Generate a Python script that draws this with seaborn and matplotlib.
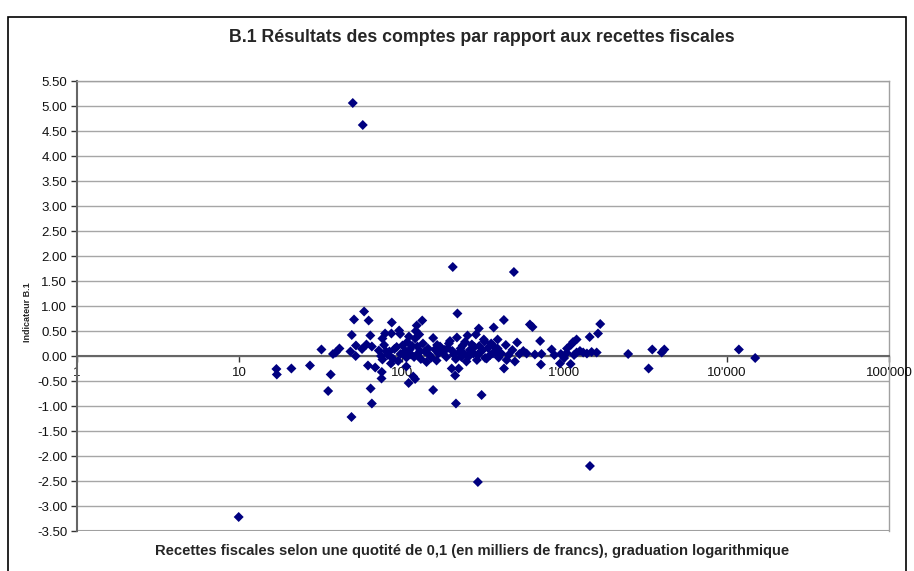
import numpy as np
import pandas as pd
import matplotlib
matplotlib.use("Agg")
import matplotlib.pyplot as plt
from matplotlib.patches import Rectangle
import seaborn as sns

sns.set_theme(style="white")
plt.rcParams['font.family'] = ['Liberation Sans', 'DejaVu Sans']

# Recettes fiscales (milliers de francs) et indicateur B.1
recettes = [
    9.9, 16.9, 17.0, 20.9, 27.2, 32.0, 35.2, 36.5, 37.7, 39.2, 41.3, 48.3, 49.0, 49.2,
    49.9, 50.8, 52.0, 52.2, 56.9, 57.5, 58.6, 60.6, 61.9, 62.5, 64.0, 64.3, 65.4, 65.4,
    68.6, 72.2, 74.5, 75.0, 75.3, 76.0, 76.0, 77.8, 78.9, 80.1, 83.9, 85.7, 86.3, 86.8,
    90.1, 96.3, 97.7, 98.2, 101, 105.5, 106.8, 106.6, 110.2, 110.6, 112, 117.6, 120.8,
    120.8, 122, 123.6, 124.7, 128, 129.7, 133.6, 139, 142, 156, 156, 160, 163.7, 172,
    178, 195, 198, 203, 206, 209, 213, 215, 215.5, 218.5, 220, 224, 226, 237, 250, 254,
    262, 270, 276, 286, 290, 298, 306, 310, 320, 324, 326, 333, 364, 364, 368, 377, 389,
    389, 425, 426, 437, 442, 294, 490, 497, 513, 587, 615, 638, 711, 719, 725, 837, 942,
    954, 1036, 1041, 1096, 1106, 1134, 1192, 1192, 1309, 1435, 1440, 1475, 1585, 1615,
    1667, 2477, 3311, 3486, 3985, 4135, 11900, 15000,
    82, 88, 93, 95, 103, 108, 114, 116, 119, 126, 131, 135, 145, 148, 152, 165, 168, 183,
    188, 192, 205, 230, 233, 240, 245, 258, 266, 280, 295, 300, 315, 340, 350, 355, 395,
    410, 455, 480, 530, 560, 660, 870, 1000, 1150, 1250, 1380,
]
indicateur = [
    -3.22, -0.26, -0.37, -0.25, -0.19, 0.13, -0.70, -0.37, 0.04, 0.07, 0.15, 0.09, -1.22, 0.42,
    5.06, 0.73, 0.00, 0.21, 0.14, 4.62, 0.89, 0.23, -0.19, 0.71, 0.41, -0.65, 0.19, -0.95,
    -0.23, 0.11, 0.00, -0.45, -0.32, -0.07, 0.35, 0.22, 0.45, 0.09, 0.09, -0.15, 0.45, 0.67,
    0.14, 0.51, 0.44, 0.04, 0.21, 0.10, -0.03, -0.21, -0.54, 0.39, 0.13, -0.41, -0.46,
    0.35, 0.50, 0.61, 0.19, 0.43, 0.10, 0.71, 0.09, -0.12, 0.36, -0.68, 0.13, -0.09, 0.19,
    0.07, 0.25, 0.30, -0.25, 1.78, 0.03, -0.39, -0.06, -0.95, 0.37, 0.85, -0.25, 0.07, 0.21, -0.11, 0.41,
    0.12, 0.23, 0.05, 0.43, -0.08, 0.55, 0.09, -0.78, 0.33, 0.29, -0.04, -0.05, 0.21, 0.05, 0.57, 0.09, 0.33,
    0.15, 0.72, -0.25, 0.22, -0.08, -2.52, 1.68, -0.11, 0.27, 0.05, 0.63, 0.58, 0.30, -0.17, 0.04, 0.13, -0.15,
    0.04, 0.06, 0.15, -0.16, 0.23, 0.28, 0.33, 0.07, 0.07, 0.38, -2.20, 0.08, 0.07, 0.45,
    0.64, 0.04, -0.25, 0.13, 0.07, 0.13, 0.13, -0.04,
    0.02, -0.05, 0.18, -0.10, 0.06, 0.28, 0.03, 0.20, -0.02, 0.05, -0.06, 0.25, 0.15, 0.02, -0.03, 0.22, 0.05, 0.12,
    -0.02, 0.16, 0.10, 0.15, -0.02, 0.05, 0.28, -0.01, 0.08, 0.18, 0.02, 0.20, 0.12, 0.16, 0.02, 0.25, -0.03,
    0.05, 0.02, 0.12, 0.04, 0.10, 0.03, 0.02, -0.04, 0.02, 0.10, 0.05,
]
df = pd.DataFrame({'recettes': recettes, 'indicateur': indicateur})

xticks = [1, 10, 100, 1000, 10000, 100000]
xtick_labels = ["1", "10", "100", "1'000", "10'000", "100'000"]
yticks = np.arange(-3.5, 5.51, 0.5)

fig = plt.figure(figsize=(9.14, 5.71), dpi=100)
ax = fig.add_axes([77 / 914, 1 - 531 / 571, 812 / 914, 450 / 571])

sns.scatterplot(data=df, x='recettes', y='indicateur', marker='D', s=26,
                color='#000080', edgecolor='none', ax=ax, zorder=3, legend=False)

ax.set_xscale('log')
ax.set_xlim(1, 100000)
ax.set_ylim(-3.5, 5.5)
ax.set_xticks(xticks)
ax.set_xticklabels(xtick_labels)
ax.xaxis.set_minor_locator(matplotlib.ticker.NullLocator())
ax.set_yticks(yticks)
ax.set_yticklabels([f"{v:.2f}" for v in yticks])

ax.grid(axis='y', color='#a6a6a6', linewidth=1, zorder=0)
ax.grid(axis='x', visible=False)

ax.spines['bottom'].set_position(('data', 0))
ax.spines['bottom'].set_color('#666666')
ax.spines['bottom'].set_linewidth(1.5)
ax.spines['left'].set_color('#666666')
ax.spines['left'].set_linewidth(1.5)
for side in ['top', 'right']:
    ax.spines[side].set_color('#a0a0a0')
    ax.spines[side].set_linewidth(1)
ax.axhline(-3.5, color='#a0a0a0', linewidth=1.5, zorder=1)

ax.tick_params(axis='x', direction='out', length=4, width=1, color='#333333',
               labelsize=9.5, pad=4, bottom=True)
ax.tick_params(axis='y', direction='out', length=4, width=1, color='#333333',
               labelsize=9.5, pad=3, left=True)
for lbl in ax.get_xticklabels() + ax.get_yticklabels():
    lbl.set_color('#111111')

ax.set_xlabel('')
ax.set_ylabel('')
fig.text(482 / 914, 1 - 38 / 571, 'B.1 Résultats des comptes par rapport aux recettes fiscales',
         ha='center', va='center', fontsize=12.8, fontweight='bold')
fig.text(472 / 914, 1 - 551 / 571,
         'Recettes fiscales selon une quotité de 0,1 (en milliers de francs), graduation logarithmique',
         ha='center', va='center', fontsize=10.6, fontweight='bold')
fig.text(27 / 914, 1 - 312 / 571, 'Indicateur B.1', rotation=90,
         ha='center', va='center', fontsize=6.5, fontweight='bold')

fig.patches.append(Rectangle((8 / 914, -0.05), 898 / 914, 0.05 + 1 - 17 / 571,
                             transform=fig.transFigure, fill=False,
                             edgecolor='#000000', linewidth=1.2))

fig.savefig('out.png', dpi=100)
